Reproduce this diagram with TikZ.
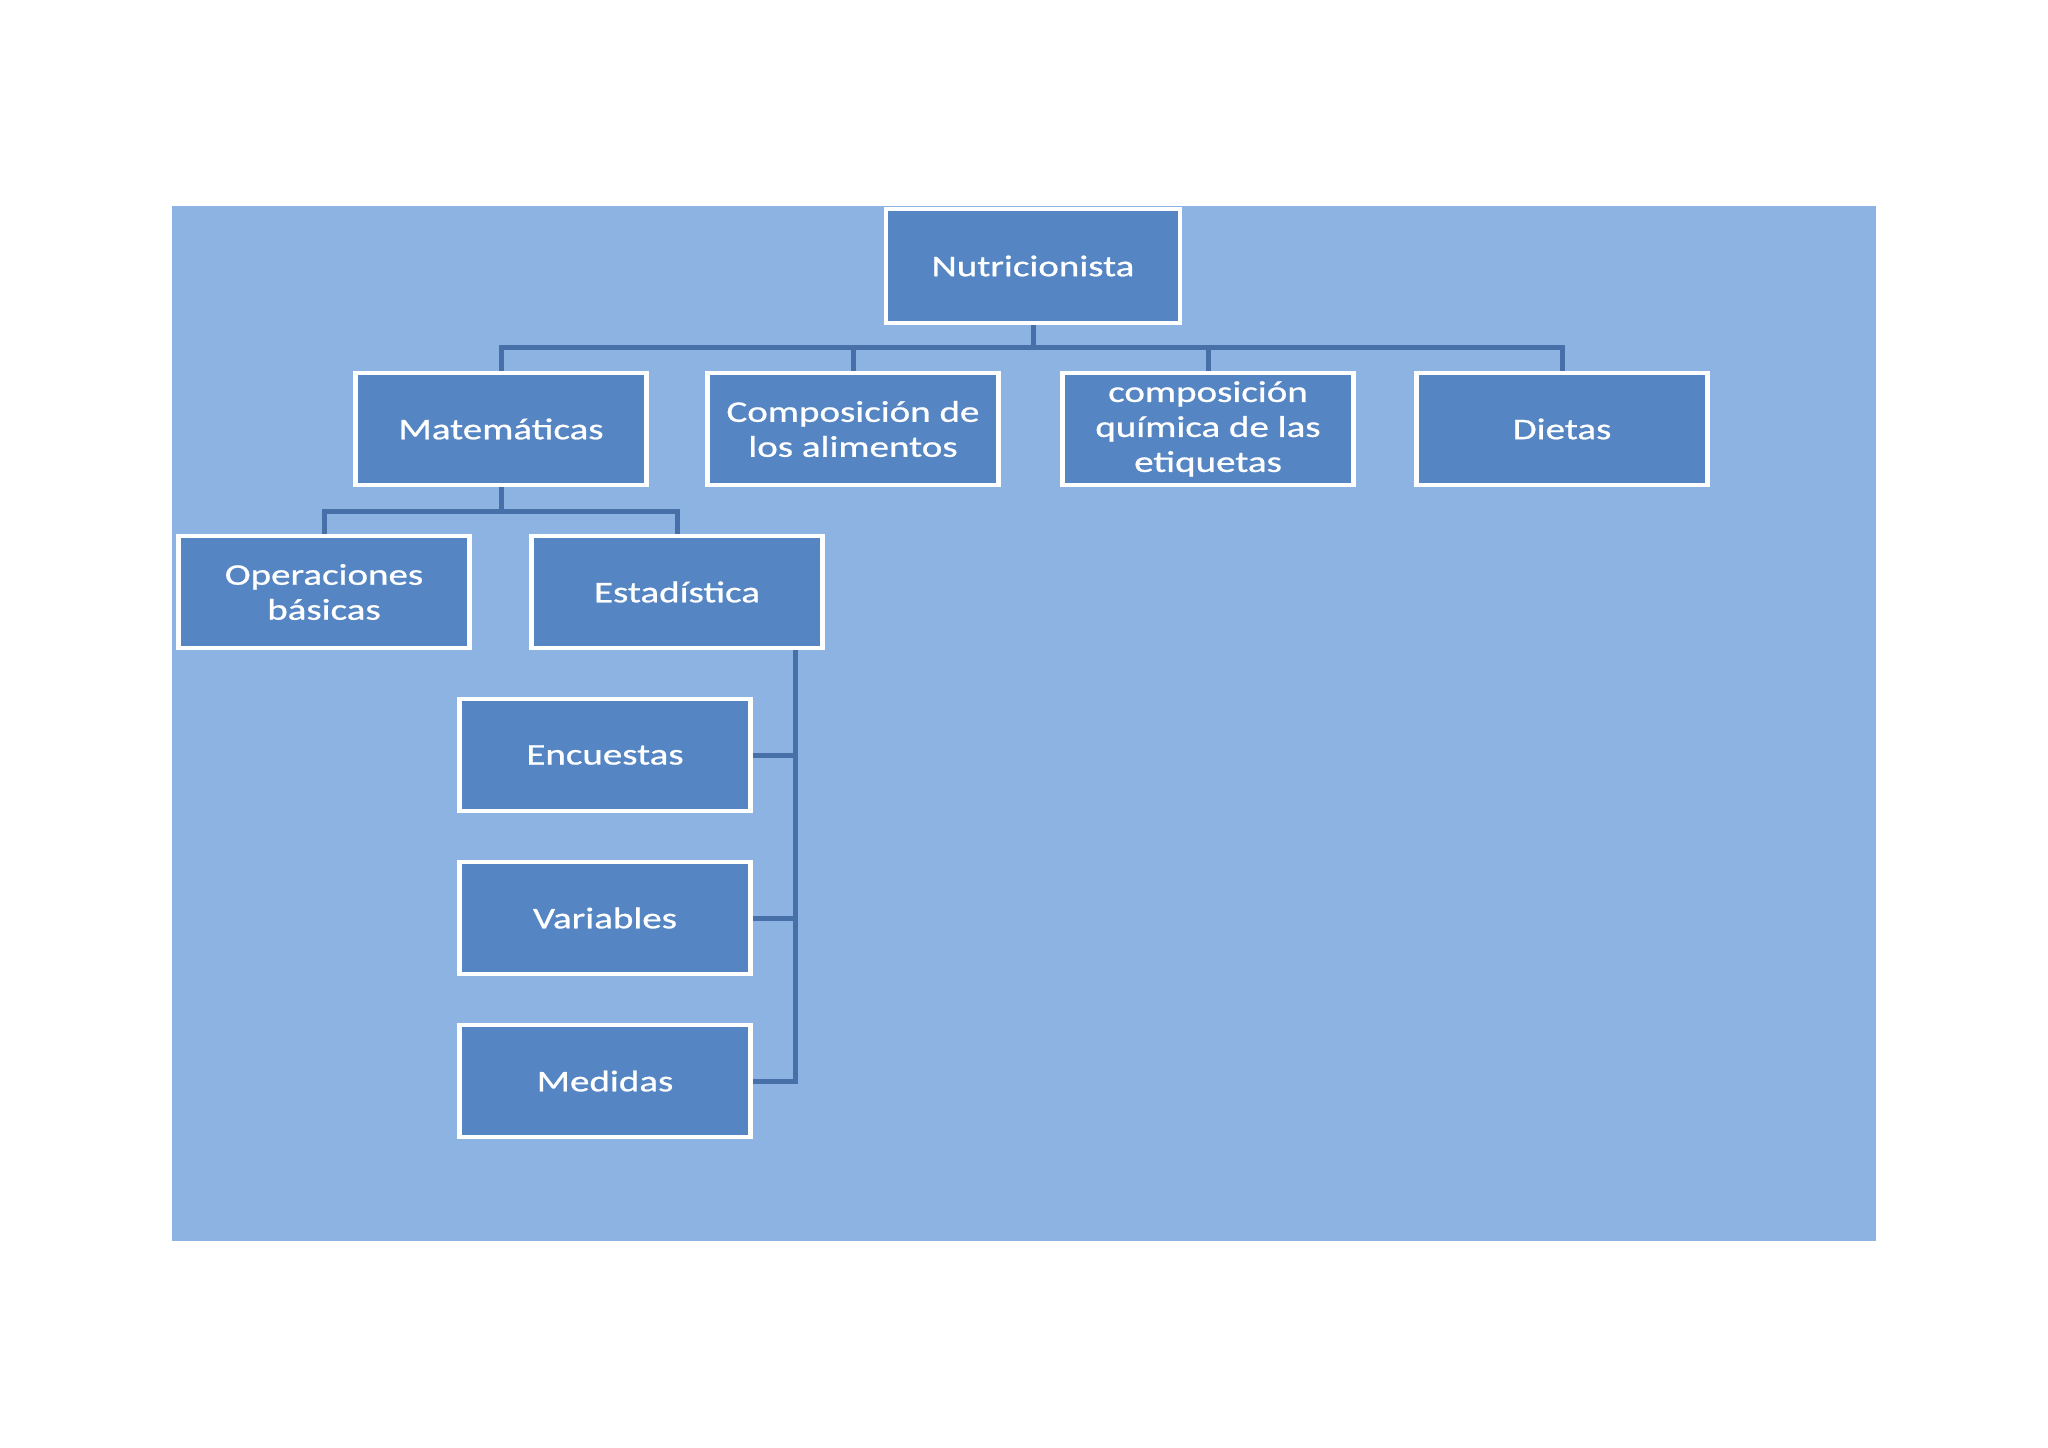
\documentclass[tikz,border=0pt]{standalone}
\usepackage{fontspec}
\setmainfont{Carlito}[FakeStretch=1.3,FakeBold=0.8]
\definecolor{bgblue}{RGB}{141,179,226}
\definecolor{boxblue}{RGB}{85,134,195}
\definecolor{linkblue}{RGB}{72,112,168}
\begin{document}
\begin{tikzpicture}[x=0.5pt,y=-0.5pt,
  box/.style={draw=white, line width=2.2pt, fill=boxblue, text=white,
    minimum width=145.5pt, minimum height=56pt, inner sep=2pt, align=center,
    font=\fontsize{15pt}{17.5pt}\selectfont},
  link/.style={draw=linkblue, line width=2.5pt}]
\useasboundingbox (0,0) rectangle (2048,1447);
\fill[white] (0,0) rectangle (2048,1447);
\fill[bgblue] (172,206) rectangle (1876,1241);
% nodes
\node[box, minimum width=147pt, minimum height=57pt] (nut) at (1033,266) {Nutricionista};
\node[box] (mat) at (501,429) {Matemáticas};
\node[box] (comp) at (853,429) {Composición de\\los alimentos};
\node[box] (quim) at (1208,429) {composición\\química de las\\etiquetas};
\node[box] (diet) at (1562,429) {Dietas};
\node[box] (ope) at (324,592) {Operaciones\\básicas};
\node[box] (est) at (677,592) {Estadística};
\node[box] (enc) at (605,755) {Encuestas};
\node[box] (var) at (605,918) {Variables};
\node[box] (med) at (605,1081) {Medidas};
% connectors
\coordinate (bus1) at (1033,347);
\coordinate (bus2) at (501,511);
\coordinate (ebus) at (795,1081);
\draw[link] (nut.south) -- (bus1);
\draw[link] (mat.north) |- (bus1);
\draw[link] (comp.north) |- (bus1);
\draw[link] (quim.north) |- (bus1);
\draw[link] (diet.north) |- (bus1);
\draw[link] (mat.south) -- (bus2);
\draw[link] (ope.north) |- (bus2);
\draw[link] (est.north) |- (bus2);
\draw[link] (est.south -| ebus) -- (ebus) -- (med.east);
\draw[link] (enc.east) -- (enc.east -| ebus);
\draw[link] (var.east) -- (var.east -| ebus);
\end{tikzpicture}
\end{document}
